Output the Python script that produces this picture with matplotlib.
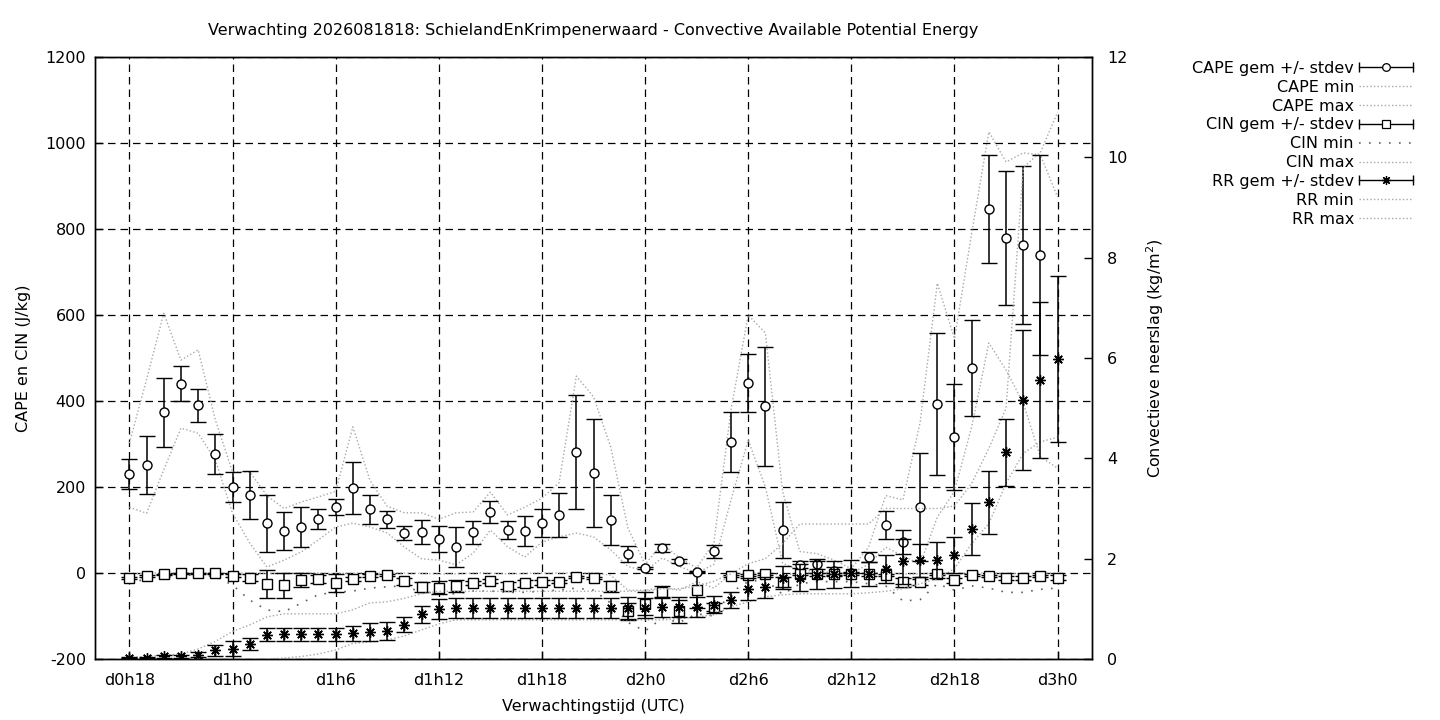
import numpy as np
import matplotlib
matplotlib.use("Agg")
import matplotlib.pyplot as plt
from matplotlib.lines import Line2D
from matplotlib.legend_handler import HandlerBase

# lead time in hours since d0h0 (one value per hour)
lead_hours = list(range(18, 73))
tick_hours = [18, 24, 30, 36, 42, 48, 54, 60, 66, 72]
tick_labels = ["d0h18", "d1h0", "d1h6", "d1h12", "d1h18", "d2h0", "d2h6", "d2h12", "d2h18", "d3h0"]

cape_mean = [230, 251, 374, 440, 390, 277, 200, 182, 116, 98, 107, 126, 154, 198, 148, 125, 93, 95, 79,
             60, 95, 142, 100, 98, 116, 135, 281, 233, 123, 44, 12, 58, 28, 2, 51, 305, 442, 388, 100,
             19, 21, 5, 1, 37, 112, 72, 153, 393, 316, 477, 847, 779, 763, 740, np.nan]
cape_std = [35, 67, 80, 41, 38, 46, 35, 56, 66, 45, 46, 24, 18, 60, 33, 20, 17, 28, 30,
            46, 27, 25, 20, 35, 32, 52, 133, 125, 59, 19, 3, 9, 5, 2, 15, 69, 67, 138, 66,
            8, 12, 10, 1, 12, 32, 28, 126, 165, 123, 111, 126, 156, 184, 232, np.nan]
cape_min = [153, 139, 240, 337, 325, 263, 139, 70, 14, 30, 49, 77, 107, 116, 107, 93, 60, 33, 30,
            19, 46, 100, 61, 37, 72, 84, 93, 84, 54, 15, 5, 35, 15, 0, 20, 170, 309, 200, 23,
            5, 5, 0, 0, 20, 60, 40, 20, 130, 190, 340, 535, 472, 395, 270, 244]
cape_max = [302, 450, 604, 495, 519, 356, 235, 235, 180, 150, 165, 177, 190, 340, 215, 155, 140, 140, 125,
            140, 142, 188, 135, 153, 174, 210, 458, 410, 293, 105, 20, 68, 35, 12, 70, 380, 600, 558, 190,
            50, 45, 30, 10, 60, 180, 170, 350, 674, 545, 790, 1026, 956, 977, 972, 874]

cin_mean = [-11, -7, -3, -1, -1, -1, -6, -11, -26, -28, -16, -14, -24, -14, -6, -5, -19, -33, -34,
            -30, -24, -19, -30, -24, -22, -20, -9, -12, -31, -89, -71, -45, -89, -40, -79, -7, -5, -3, -21,
            -2, -3, -3, -2, -3, -5, -22, -21, -2, -17, -5, -7, -12, -12, -7, -11]
cin_std = [2, 2, 1, 1, 1, 1, 3, 8, 32, 29, 17, 9, 21, 5, 3, 2, 8, 12, 15,
           14, 5, 4, 8, 8, 5, 4, 3, 3, 13, 20, 27, 14, 27, 42, 10, 3, 3, 2, 12,
           3, 3, 3, 2, 3, 3, 10, 6, 2, 6, 3, 3, 4, 5, 3, 6]
cin_min = [-16, -18, -12, -5, -5, -8, -28, -63, -86, -90, -70, -50, -45, -42, -35, -32, -30, -45, -50,
           -48, -42, -42, -45, -45, -42, -40, -35, -40, -70, -115, -135, -105, -115, -95, -100, -45, -20, -15, -50,
           -25, -20, -20, -20, -25, -30, -65, -62, -25, -40, -30, -35, -45, -45, -38, -35]
cin_max = [-2, 0, 0, 0, 0, 0, 0, 0, -1, -1, 0, 0, -1, 0, 0, 0, 0, -1, -2,
           -2, 0, 0, -2, -1, 0, 0, 0, 0, -5, -40, -40, -35, -40, -20, -35, -2, 0, 0, -5,
           0, 0, 0, 0, 0, 0, -2, -2, 0, -2, 0, 0, -1, -1, 0, -1]

rr_mean = [0.02, 0.02, 0.05, 0.05, 0.08, 0.17, 0.20, 0.29, 0.48, 0.49, 0.49, 0.49, 0.49, 0.51, 0.54, 0.56, 0.68, 0.89, 1.00,
           1.01, 1.01, 1.01, 1.01, 1.01, 1.01, 1.01, 1.01, 1.01, 1.01, 1.01, 1.01, 1.04, 1.03, 1.04, 1.08, 1.18, 1.39, 1.43, 1.62,
           1.62, 1.67, 1.69, 1.71, 1.69, 1.79, 1.95, 1.97, 1.97, 2.07, 2.59, 3.12, 4.12, 5.16, 5.56, 5.98]
rr_std = [0.01, 0.01, 0.03, 0.03, 0.05, 0.11, 0.15, 0.12, 0.13, 0.13, 0.13, 0.13, 0.13, 0.15, 0.18, 0.18, 0.15, 0.17, 0.20,
          0.20, 0.20, 0.20, 0.20, 0.20, 0.20, 0.20, 0.20, 0.20, 0.20, 0.22, 0.20, 0.20, 0.20, 0.20, 0.17, 0.16, 0.22, 0.21, 0.23,
          0.27, 0.28, 0.27, 0.27, 0.24, 0.28, 0.45, 0.33, 0.36, 0.36, 0.52, 0.63, 0.67, 1.40, 1.55, 1.66]
rr_min = [0.0, 0.0, 0.0, 0.0, 0.0, 0.0, 0.0, 0.0, 0.0, 0.02, 0.05, 0.10, 0.18, 0.31, 0.34, 0.38, 0.46, 0.58, 0.70,
          0.78, 0.78, 0.78, 0.78, 0.78, 0.78, 0.78, 0.78, 0.78, 0.78, 0.78, 0.78, 0.78, 0.80, 0.84, 0.88, 1.04, 1.14, 1.24, 1.28,
          1.30, 1.30, 1.30, 1.30, 1.32, 1.35, 1.40, 1.50, 1.60, 1.80, 2.30, 2.70, 3.50, 4.10, 4.33, 4.42]
rr_max = [0.03, 0.05, 0.08, 0.10, 0.20, 0.35, 0.55, 0.68, 0.84, 0.90, 0.90, 0.90, 0.90, 0.98, 1.12, 1.14, 1.21, 1.30, 1.35,
          1.35, 1.35, 1.35, 1.35, 1.35, 1.35, 1.35, 1.35, 1.35, 1.35, 1.35, 1.35, 1.40, 1.40, 1.45, 1.55, 1.70, 1.90, 2.00, 2.30,
          2.69, 2.69, 2.69, 2.69, 2.69, 3.00, 3.00, 3.00, 3.00, 3.05, 3.50, 4.20, 5.00, 9.80, 10.10, 10.90]

LIGHT = "#a8a8a8"
DARK = "#606060"
DOT = (0, (1, 1.6))
SPARSE = (0, (1, 5))
FS = 11.5


class HandlerErrSample(HandlerBase):
    """gnuplot style key sample: horizontal bar with caps and the point in the middle"""

    def create_artists(self, legend, orig_handle, xdescent, ydescent, width, height, fontsize, trans):
        y = height / 2 - ydescent
        x0, x1 = -xdescent, width - xdescent
        bar = Line2D([x0, x1], [y, y], color="k", lw=1.0, transform=trans)
        caps = Line2D([x0, x1], [y, y], ls="none", marker="|", ms=7, mew=1.0, color="k", transform=trans)
        mark = Line2D([(x0 + x1) / 2], [y], ls="none", marker=orig_handle.get_marker(),
                      ms=orig_handle.get_markersize(), mfc="white", mec="k", mew=0.9, transform=trans)
        return [bar, caps, mark]


plt.rcParams["font.family"] = ["DejaVu Sans"]
plt.rcParams["font.size"] = FS
plt.rcParams["axes.unicode_minus"] = False

fig = plt.figure(figsize=(14.4, 7.2), dpi=100)
ax = fig.add_axes([95 / 1440, 61 / 720, 997 / 1440, 602 / 720])
ax2 = ax.twinx()

x = np.array(lead_hours)

# min/max envelopes
ax.plot(x, cape_min, color=LIGHT, ls=DOT, lw=1.0, zorder=2)
ax.plot(x, cape_max, color=LIGHT, ls=DOT, lw=1.0, zorder=2)
ax.plot(x, cin_min, color=DARK, ls=SPARSE, lw=1.2, zorder=2)
ax.plot(x, cin_max, color=LIGHT, ls=DOT, lw=1.0, zorder=2)
ax2.plot(x, rr_min, color=LIGHT, ls=DOT, lw=1.0, zorder=2)
ax2.plot(x, rr_max, color=LIGHT, ls=DOT, lw=1.0, zorder=2)

# means with stdev bars
err_kw = dict(ls="none", ecolor="k", elinewidth=1.1, capsize=6, capthick=1.1, mec="k", mfc="white", mew=1.0, zorder=4)
ax.errorbar(x, cape_mean, yerr=cape_std, marker="o", ms=6.5, **err_kw)
ax.errorbar(x, cin_mean, yerr=cin_std, marker="s", ms=6.5, **err_kw)
ax2.errorbar(x, rr_mean, yerr=rr_std, marker=(8, 2, 0), ms=7.5, **err_kw)

ax.set_xlim(16, 74)
ax.set_ylim(-200, 1200)
ax2.set_ylim(0, 12)
ax.set_xticks(tick_hours)
ax.set_xticklabels(tick_labels)
ax.set_yticks(np.arange(-200, 1201, 200))
ax2.set_yticks(np.arange(0, 13, 2))

ax.tick_params(direction="in", length=6, width=1, pad=6.5, labelsize=FS)
ax.tick_params(axis="x", pad=10)
ax2.tick_params(direction="in", length=6, width=1, pad=11, labelsize=FS)
ax.grid(True, color="k", ls=(0, (6, 4)), lw=0.9)
for a in (ax, ax2):
    for s in a.spines.values():
        s.set_linewidth(1.0)

ax.set_ylabel("CAPE en CIN (J/kg)", labelpad=10, fontsize=FS)
ax2.set_ylabel("Convectieve neerslag (kg/m$^2$)", labelpad=12, fontsize=FS)
ax.set_xlabel("Verwachtingstijd (UTC)", labelpad=8, fontsize=FS)
ax.set_title("Verwachting 2026081818: SchielandEnKrimpenerwaard - Convective Available Potential Energy",
             fontsize=FS, pad=16)

# key
h_cape = Line2D([], [], marker="o", ms=5.5, color="k")
h_cin = Line2D([], [], marker="s", ms=5.5, color="k")
h_rr = Line2D([], [], marker=(8, 2, 0), ms=6.5, color="k")
handles = [
    h_cape,
    Line2D([], [], color=LIGHT, ls=DOT, lw=1.0),
    Line2D([], [], color=LIGHT, ls=DOT, lw=1.0),
    h_cin,
    Line2D([], [], color=DARK, ls=SPARSE, lw=1.2),
    Line2D([], [], color=LIGHT, ls=DOT, lw=1.0),
    h_rr,
    Line2D([], [], color=LIGHT, ls=DOT, lw=1.0),
    Line2D([], [], color=LIGHT, ls=DOT, lw=1.0),
]
labels = ["CAPE gem +/- stdev", "CAPE min", "CAPE max",
          "CIN gem +/- stdev", "CIN min", "CIN max",
          "RR gem +/- stdev", "RR min", "RR max"]
sample = HandlerErrSample()
fig.legend(handles, labels, loc="upper right", bbox_to_anchor=(1421 / 1440, 1 - 53 / 720),
           markerfirst=False, frameon=False, handlelength=3.4, handletextpad=0.3,
           labelspacing=0.24, borderpad=0, fontsize=FS,
           handler_map={h_cape: sample, h_cin: sample, h_rr: sample})

fig.savefig("out.png", dpi=100)
plt.close(fig)
